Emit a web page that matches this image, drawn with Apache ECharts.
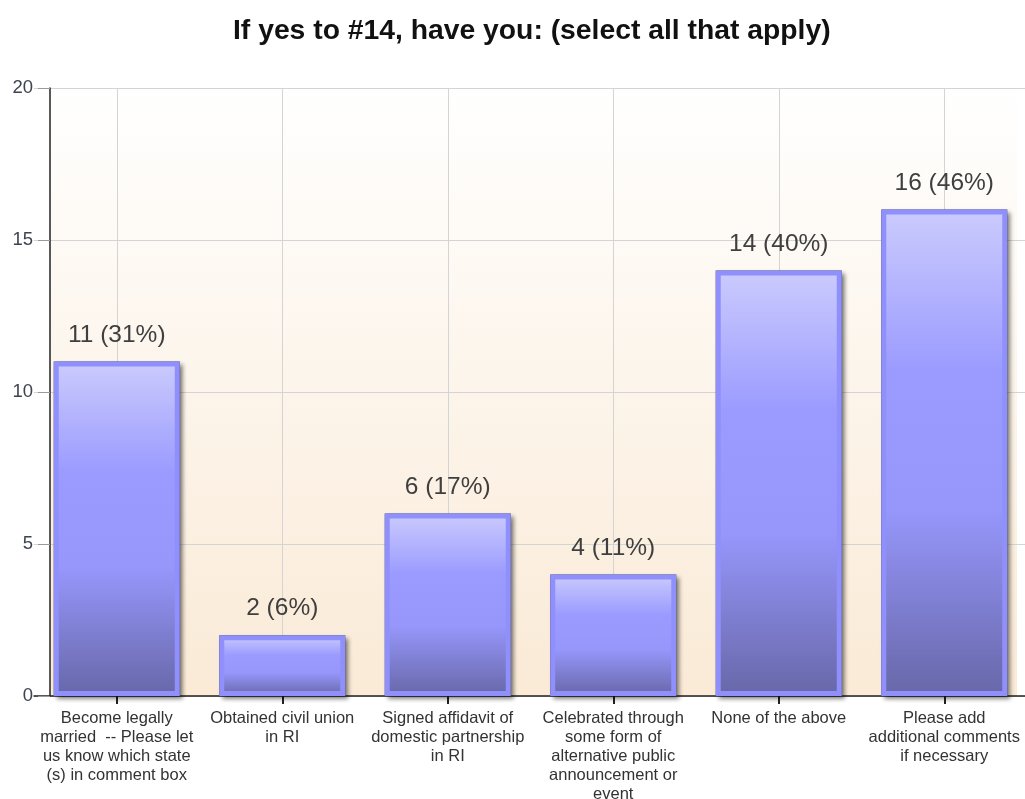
<!DOCTYPE html>
<html>
<head>
<meta charset="utf-8">
<script src="https://cdn.jsdelivr.net/npm/echarts@6/dist/echarts.min.js"></script>
<style>
html,body{margin:0;padding:0;background:#fff;}
#chart{width:1025px;height:799px;}
</style>
</head>
<body>
<div id="chart"></div>
<script>
const titleText = 'If yes to #14, have you: (select all that apply)';
const categories = [
  'Become legally\nmarried  -- Please let\nus know which state\n(s) in comment box',
  'Obtained civil union\nin RI',
  'Signed affidavit of\ndomestic partnership\nin RI',
  'Celebrated through\nsome form of\nalternative public\nannouncement or\nevent',
  'None of the above',
  'Please add\nadditional comments\nif necessary'
];
const counts = [11, 2, 6, 4, 14, 16];
const percents = [31, 6, 17, 11, 40, 46];
const yTicks = [0, 5, 10, 15, 20];

const chart = echarts.init(document.getElementById('chart'));
const font = '"Liberation Sans", Arial, sans-serif';

const barGradient = new echarts.graphic.LinearGradient(0, 0, 0, 1, [
  {offset: 0, color: '#cbcbfd'},
  {offset: 0.33, color: '#9b9bff'},
  {offset: 0.62, color: '#9696fb'},
  {offset: 1, color: '#6767a8'}
]);

chart.setOption({
  backgroundColor: '#ffffff',
  animation: false,
  title: {
    text: titleText,
    left: 228,
    top: 12,
    textStyle: {fontFamily: font, fontSize: 28.3, fontWeight: 'bold', color: '#111'}
  },
  graphic: [{
    type: 'rect',
    z: -10,
    silent: true,
    shape: {x: 50, y: 88, width: 967, height: 608},
    style: {
      fill: new echarts.graphic.LinearGradient(0, 0, 0, 1, [
        {offset: 0, color: '#ffffff'},
        {offset: 1, color: '#faead6'}
      ])
    }
  }],
  grid: {left: 34, right: -2, top: 88, bottom: 103, containLabel: false, outerBoundsMode: 'none'},
  xAxis: {
    type: 'category',
    data: categories,
    boundaryGap: true,
    axisLine: {show: true, lineStyle: {color: '#222', width: 1.5}},
    axisTick: {show: true, alignWithLabel: true, length: 8, lineStyle: {color: '#222', width: 2}},
    splitLine: {show: true, alignWithLabel: true, lineStyle: {color: '#d4d4d4', width: 1}},
    axisLabel: {
      interval: 0,
      margin: 13,
      fontFamily: font,
      fontSize: 16.5,
      lineHeight: 19,
      color: '#333',
      align: 'center',
      verticalAlign: 'top'
    }
  },
  yAxis: {
    type: 'value',
    min: yTicks[0],
    max: yTicks[yTicks.length - 1],
    interval: yTicks[1] - yTicks[0],
    offset: -16,
    axisLine: {show: true, lineStyle: {color: '#222', width: 1.5}},
    axisTick: {show: true, length: 12, lineStyle: {color: '#9a9a9a'}},
    splitLine: {show: true, lineStyle: {color: '#d4d4d4', width: 1}},
    axisLabel: {margin: 17, fontFamily: font, fontSize: 18.5, color: '#3d4450'}
  },
  series: [
    {
      type: 'bar',
      data: counts,
      barWidth: 126,
      z: 2,
      itemStyle: {
        color: '#3a3a48',
        borderColor: '#3a3a48',
        borderWidth: 8,
        shadowColor: 'rgba(0,0,0,0.45)',
        shadowBlur: 4,
        shadowOffsetX: 3,
        shadowOffsetY: 3
      },
      silent: true
    },
    {
      type: 'bar',
      data: counts,
      barWidth: 126,
      barGap: '-100%',
      z: 3,
      itemStyle: {
        color: barGradient,
        borderColor: '#9090fc',
        borderWidth: 5
      },
      label: {
        show: true,
        position: 'top',
        distance: 14,
        fontFamily: font,
        fontSize: 24.5,
        color: '#3f3f3f',
        formatter: function (p) { return counts[p.dataIndex] + ' (' + percents[p.dataIndex] + '%)'; }
      }
    }
  ]
});
</script>
</body>
</html>
